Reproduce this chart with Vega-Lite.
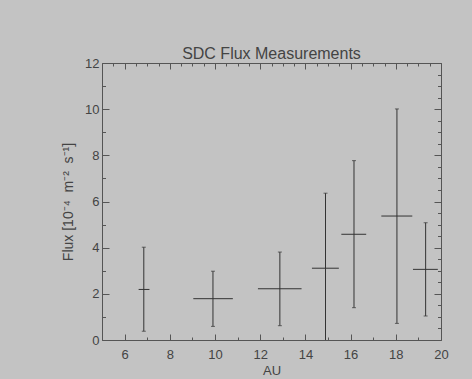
{
  "$schema": "https://vega.github.io/schema/vega-lite/v6.json",
  "autosize": "none",
  "width": 339,
  "height": 277,
  "padding": {"left": 102, "top": 63, "right": 31, "bottom": 39},
  "background": "#c3c3c3",
  "title": {"text": "SDC Flux Measurements", "anchor": "middle", "font": "Liberation Sans", "fontSize": 16, "fontWeight": "normal", "color": "#444444", "offset": -5},
  "config": {
    "view": {"stroke": null},
    "axis": {"domainColor": "#555555", "tickColor": "#555555", "labelColor": "#444444", "titleColor": "#444444", "labelFont": "Liberation Sans", "titleFont": "Liberation Sans", "labelFontSize": 13, "titleFontSize": 13, "titleFontWeight": "normal", "grid": false, "labelFlush": false, "labelOverlap": false}
  },
  "data": {"values": [
    {"au": 6.85, "flux": 2.19, "aulo": 6.62, "auhi": 7.10, "lo": 0.38, "hi": 4.02},
    {"au": 9.91, "flux": 1.79, "aulo": 9.04, "auhi": 10.79, "lo": 0.59, "hi": 2.98},
    {"au": 12.87, "flux": 2.22, "aulo": 11.9, "auhi": 13.83, "lo": 0.62, "hi": 3.81},
    {"au": 14.89, "flux": 3.11, "aulo": 14.29, "auhi": 15.48, "lo": -0.4, "hi": 6.36},
    {"au": 16.15, "flux": 4.58, "aulo": 15.59, "auhi": 16.69, "lo": 1.40, "hi": 7.77},
    {"au": 18.05, "flux": 5.37, "aulo": 17.36, "auhi": 18.73, "lo": 0.72, "hi": 10.01},
    {"au": 19.32, "flux": 3.06, "aulo": 18.76, "auhi": 19.86, "lo": 1.04, "hi": 5.08}
  ]},
  "resolve": {"axis": {"x": "independent", "y": "independent"}},
  "layer": [
    {
      "mark": {"type": "rule", "color": "#333333", "strokeWidth": 1, "clip": true},
      "encoding": {
        "x": {"field": "au", "type": "quantitative", "scale": {"domain": [5, 20], "nice": false, "zero": false},
          "axis": {"orient": "bottom", "title": "AU", "format": "d", "values": [5,5.5,6,6.5,7,7.5,8,8.5,9,9.5,10,10.5,11,11.5,12,12.5,13,13.5,14,14.5,15,15.5,16,16.5,17,17.5,18,18.5,19,19.5,20],
            "labelExpr": "datum.value % 2 === 0 ? datum.label : ''",
            "tickSize": {"condition": {"test": "datum.value % 2 === 0", "value": -6}, "value": -3},
            "labelPadding": 14, "titlePadding": 0}},
        "y": {"field": "lo", "type": "quantitative", "scale": {"domain": [0, 12], "nice": false},
          "axis": {"orient": "left", "title": "Flux [10⁻⁴\u00a0\u00a0m⁻²\u00a0\u00a0s⁻¹]", "titleFontSize": 14, "format": "d", "values": [0,0.5,1,1.5,2,2.5,3,3.5,4,4.5,5,5.5,6,6.5,7,7.5,8,8.5,9,9.5,10,10.5,11,11.5,12],
            "labelExpr": "datum.value % 2 === 0 ? datum.label : ''",
            "tickSize": {"condition": {"test": "datum.value % 2 === 0", "value": -7}, "value": -3.5},
            "labelPadding": 10, "titlePadding": 9}},
        "y2": {"field": "hi"}
      }
    },
    {
      "mark": {"type": "rule", "color": "#333333", "strokeWidth": 1, "clip": true},
      "encoding": {
        "x": {"field": "aulo", "type": "quantitative",
          "axis": {"orient": "top", "title": null, "labels": false, "values": [5,5.5,6,6.5,7,7.5,8,8.5,9,9.5,10,10.5,11,11.5,12,12.5,13,13.5,14,14.5,15,15.5,16,16.5,17,17.5,18,18.5,19,19.5,20],
            "tickSize": {"condition": {"test": "datum.value % 2 === 0", "value": -6}, "value": -3}}},
        "x2": {"field": "auhi"},
        "y": {"field": "flux", "type": "quantitative",
          "axis": {"orient": "right", "title": null, "labels": false, "values": [0,0.5,1,1.5,2,2.5,3,3.5,4,4.5,5,5.5,6,6.5,7,7.5,8,8.5,9,9.5,10,10.5,11,11.5,12],
            "tickSize": {"condition": {"test": "datum.value % 2 === 0", "value": -7}, "value": -3.5}}}
      }
    },
    {
      "mark": {"type": "tick", "orient": "horizontal", "color": "#333333", "size": 4, "thickness": 1, "clip": true},
      "encoding": {
        "x": {"field": "au", "type": "quantitative", "axis": null},
        "y": {"field": "hi", "type": "quantitative", "axis": null}
      }
    },
    {
      "mark": {"type": "tick", "orient": "horizontal", "color": "#333333", "size": 4, "thickness": 1, "clip": true},
      "encoding": {
        "x": {"field": "au", "type": "quantitative", "axis": null},
        "y": {"field": "lo", "type": "quantitative", "axis": null}
      }
    }
  ]
}
